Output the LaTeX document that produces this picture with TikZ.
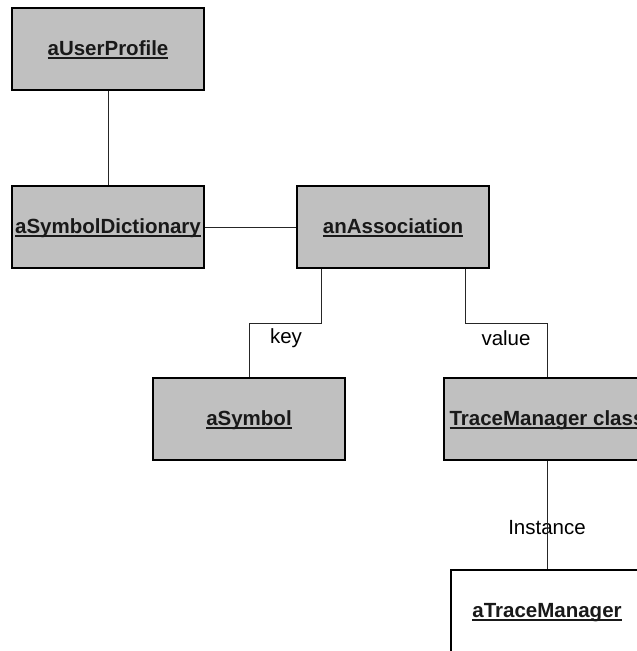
\documentclass[tikz,border=0pt]{standalone}
\usepackage{fontspec}
\setmainfont{Liberation Sans}
\usetikzlibrary{calc,shadows}
% underline at a fixed depth below the baseline
\newcommand\objname[1]{\setbox0\hbox{#1}\rlap{\rule[-0.16em]{\wd0}{0.075em}}\box0}
\definecolor{boxgray}{HTML}{C0C0C0}
\tikzset{
  obj/.style={rectangle, draw=black, line width=1.3pt, fill=boxgray,
    minimum width=192pt, minimum height=82pt, inner sep=0pt,
    text height=13pt, text depth=0pt,
    font=\fontsize{20.5}{24}\selectfont\bfseries, text=black!90,
    drop shadow={shadow xshift=0.8pt, shadow yshift=-0.8pt, fill=black, opacity=1}},
  inst/.style={obj, fill=white},
  link/.style={draw=black!85, line width=0.9pt},
  role/.style={font=\fontsize{20.5}{24}\selectfont, inner sep=0pt, text=black}
}
\begin{document}
\begin{tikzpicture}[x=1pt, y=-1pt]
  \clip (0,0) rectangle (637,651);
  \fill[white] (0,0) rectangle (637,651);

  \node[obj] (up)    at (108,49)  {\objname{aUserProfile}};
  \node[obj] (dict)  at (108,227) {\objname{aSymbolDictionary}};
  \node[obj] (assoc) at (393,227) {\objname{anAssociation}};
  \node[obj] (sym)   at (249,419) {\objname{aSymbol}};
  \node[obj, minimum width=206pt] (tmc) at (547,419) {\objname{TraceManager class}};
  \node[inst] (atm)  at (547,611) {\objname{aTraceManager}};

  \coordinate (keyout) at ($(assoc.south west)+(25,0)$);
  \coordinate (valout) at ($(assoc.south west)+(169,0)$);

  \draw[link] (up.south) -- (dict.north);
  \draw[link] (dict.east) -- (assoc.west);
  \draw[link] (keyout) -- ++(0,55) -| (sym.north);
  \draw[link] (valout) -- ++(0,55) -| (tmc.north);

  \node[role] (keylbl) at (286,338) {key};
  \node[role] (vallbl) at (506,338) {value};
  \node[role] (instlbl) at (547,528) {Instance};
  \draw[link] (tmc.south) -- (atm.north);
\end{tikzpicture}
\end{document}
